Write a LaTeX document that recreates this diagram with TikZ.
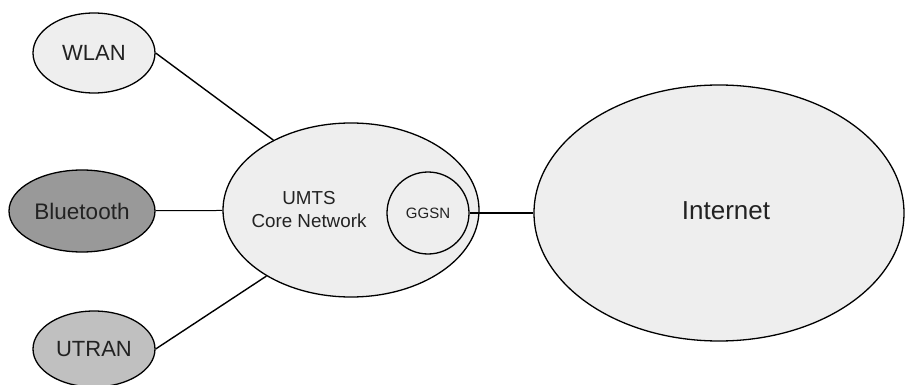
\documentclass[tikz,border=0pt]{standalone}
\usepackage{fontspec}
\setmainfont{Liberation Sans}
\usetikzlibrary{shapes.geometric}
\definecolor{lightfill}{HTML}{EEEEEE}
\definecolor{btfill}{HTML}{999999}
\definecolor{utfill}{HTML}{C0C0C0}
\definecolor{txt}{HTML}{222222}
\begin{document}
\begin{tikzpicture}[x=1pt,y=-1pt,
  oval/.style={ellipse,draw=black,line width=1.3pt,inner sep=0pt,text=txt},
  link/.style={draw=black,line width=1.4pt}]
\useasboundingbox (0,0) rectangle (905,385);
\node[oval,fill=lightfill,minimum width=122pt,minimum height=80pt,font=\fontsize{22}{26}\selectfont] (wlan) at (94,53) {WLAN};
\node[oval,fill=btfill,minimum width=146pt,minimum height=82pt,font=\fontsize{22.5}{26}\selectfont] (bt) at (82,211) {Bluetooth};
\node[oval,fill=utfill,minimum width=122pt,minimum height=76pt,font=\fontsize{22}{26}\selectfont] (utran) at (94,349) {UTRAN};
\node[oval,fill=lightfill,minimum width=256pt,minimum height=174pt] (umts) at (351,210) {};
\node[text=txt,align=center,font=\fontsize{18.8}{23}\selectfont] (umtslabel) at (309,210) {UMTS\\Core Network};
\node[circle,draw=black,line width=1.3pt,fill=lightfill,minimum size=82pt,inner sep=0pt,text=txt,font=\fontsize{15}{18}\selectfont] (ggsn) at (428,213) {GGSN};
\node[oval,fill=lightfill,minimum width=370pt,minimum height=256pt] (inet) at (719,213) {};
\node[text=txt,font=\fontsize{26}{30}\selectfont] (inetlabel) at (726,211) {Internet};
\draw[link] (wlan.east) -- (umts.138);
\draw[link,line width=1pt] (bt) -- (umts);
\draw[link] (utran.east) -- (umts.218);
\draw[link,line width=2pt] (ggsn.east) -- (inet.west);
\end{tikzpicture}
\end{document}
